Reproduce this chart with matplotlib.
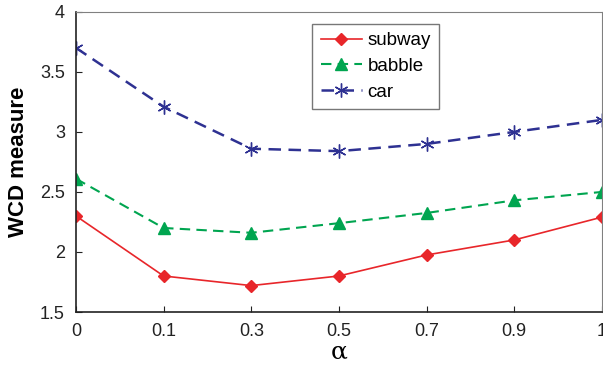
import numpy as np
import matplotlib.pyplot as plt

plt.rcParams['font.family'] = ['Liberation Sans', 'DejaVu Sans']

alpha_labels = ['0', '0.1', '0.3', '0.5', '0.7', '0.9', '1']
subway = [2.30, 1.80, 1.72, 1.80, 1.975, 2.10, 2.29]
babble = [2.61, 2.20, 2.16, 2.24, 2.325, 2.43, 2.50]
car = [3.70, 3.21, 2.86, 2.84, 2.90, 3.00, 3.10]

x = np.arange(len(alpha_labels))

fig = plt.figure(figsize=(6.03, 3.71), dpi=100)
ax = fig.add_axes([0.126, 0.159, 0.872, 0.809])

ax.plot(x, subway, '-', color='#e8262a', lw=1.2, marker='D', ms=6, label='subway')
ax.plot(x, babble, '--', color='#00a550', lw=1.5, marker='^', ms=8, dashes=(5, 3), label='babble')
ax.plot(x, car, '--', color='#2e3192', lw=1.8, marker=(6, 2, 0), ms=10, mew=1.0,
        dashes=(5, 3), label='car')

ax.set_xlim(0, 6)
ax.set_ylim(1.5, 4)
ax.set_xticks(x)
ax.set_xticklabels(alpha_labels)
ax.set_yticks([1.5, 2, 2.5, 3, 3.5, 4])
ax.set_yticklabels(['1.5', '2', '2.5', '3', '3.5', '4'])
ax.tick_params(direction='in', labelsize=13, length=4, pad=8, colors='#222222')

for s in ['top', 'right']:
    ax.spines[s].set_color('#808080')
for s in ['left', 'bottom']:
    ax.spines[s].set_color('#222222')
    ax.spines[s].set_linewidth(1.2)

ax.set_ylabel('WCD measure', fontsize=16, fontweight='bold', labelpad=8)
ax.set_xlabel('α', fontsize=18, family=['DejaVu Serif'], labelpad=0)

leg = ax.legend(loc='upper left', bbox_to_anchor=(0.449, 0.96), fontsize=13.5,
                fancybox=False, edgecolor='#555555', handlelength=2.2,
                borderpad=0.45, labelspacing=0.45, handletextpad=0.3,
                borderaxespad=0)
leg.get_frame().set_linewidth(1.0)

plt.savefig('out.png', dpi=100)
